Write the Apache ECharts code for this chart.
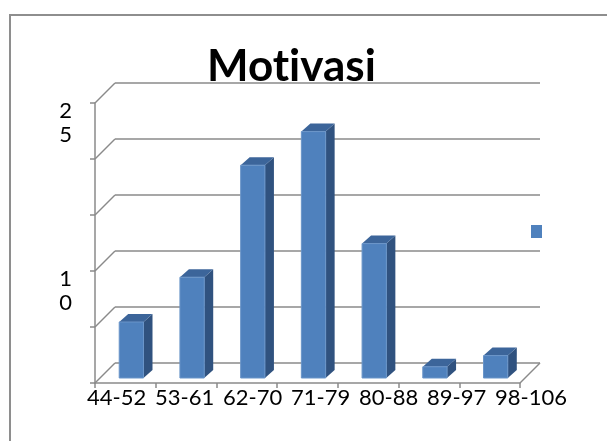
<!DOCTYPE html>
<html>
<head>
<meta charset="utf-8">
<script src="https://cdn.jsdelivr.net/npm/echarts@6/dist/echarts.min.js"></script>
<style>
  html, body { margin: 0; padding: 0; background: #fff; }
  #main { width: 607px; height: 441px; }
</style>
</head>
<body>
<div id="main"></div>
<script>
// data
const categories = ['44-52', '53-61', '62-70', '71-79', '80-88', '89-97', '98-106']
const values = [5, 9, 19, 22, 12, 1, 2]
const yTicks = [0, 5, 10, 15, 20, 25]

let chart = echarts.init(document.querySelector('#main'))

const grey = '#8a8a8a'
const depth = [20, -20]   // back wall offset

let option = {
  animation: false,
  textStyle: { fontFamily: 'Lato' },
  title: {
    text: 'Mot\u200Civasi',
    left: 202,
    top: 40,
    textStyle: { fontFamily: 'Lato', fontWeight: 'bold', fontSize: 44, color: '#000' }
  },
  legend: {
    left: 526,
    top: 220,
    icon: 'rect',
    itemWidth: 11,
    itemHeight: 13,
    data: ['Motivasi'],
    formatter: function () { return '' },
    selectedMode: false
  },
  grid: [
    // front plane
    { left: 95, top: 103, width: 425, height: 280 },
    // back wall
    { left: 95 + depth[0], top: 103 + depth[1], width: 425, height: 280 },
    // excel let the category labels run wider than the bands
    { left: 87, top: 103, width: 408, height: 280 }
  ],
  xAxis: [
    {
      type: 'category',
      gridIndex: 0,
      data: categories,
      axisLine: { lineStyle: { color: grey, width: 1.5 } },
      axisTick: { show: true, length: 5, lineStyle: { color: grey, width: 1.5 } },
      axisLabel: { show: false }
    },
    {
      type: 'category',
      gridIndex: 1,
      data: categories,
      show: false
    },
    {
      type: 'category',
      gridIndex: 2,
      data: categories,
      boundaryGap: false,
      axisLine: { show: false },
      axisTick: { show: false },
      axisLabel: { interval: 0, align: 'left', color: '#000', fontSize: 22, fontFamily: 'Lato', margin: 4 }
    }
  ],
  yAxis: [
    {
      type: 'value',
      gridIndex: 0,
      min: 0,
      max: 25,
      interval: 5,
      splitLine: { show: false },
      axisLine: { show: true, lineStyle: { color: grey, width: 1.5 } },
      axisTick: { show: true, length: 5, lineStyle: { color: grey, width: 1.5 } },
      axisLabel: {
        color: '#000',
        fontSize: 22,
        fontFamily: 'Lato',
        lineHeight: 24,
        margin: 23,
        verticalAlign: 'top',
        padding: [-4, 0, 0, 0],
        formatter: function (v) {
          // excel only kept these two, wrapped one digit per line
          if (v === 25 || v === 10) return String(v).split('').join('\n')
          return ''
        }
      }
    },
    {
      type: 'value',
      gridIndex: 1,
      min: 0,
      max: 25,
      interval: 5,
      axisLine: { show: false },
      axisTick: { show: false },
      axisLabel: { show: false },
      splitLine: { show: true, lineStyle: { color: grey, width: 1.5 } }
    },
    {
      type: 'value',
      gridIndex: 2,
      min: 0,
      max: 25,
      show: false
    }
  ],
  graphic: [
    {
      type: 'rect',
      shape: { x: 10, y: 15, width: 700, height: 500 },
      style: { fill: 'none', stroke: '#8e8e8e', lineWidth: 2 },
      silent: true
    }
  ],
  series: [
    // diagonal edges from the front axis to the back wall
    {
      type: 'custom',
      xAxisIndex: 0,
      yAxisIndex: 0,
      silent: true,
      data: yTicks.map(v => [0, v]),
      renderItem: function (params, api) {
        const p = api.coord([0, api.value(1)])
        const cs = params.coordSys
        const children = [{
          type: 'line',
          shape: { x1: cs.x, y1: p[1], x2: cs.x + depth[0], y2: p[1] + depth[1] },
          style: { stroke: grey, lineWidth: 1.5 }
        }]
        if (api.value(1) === 0) {
          children.push({
            type: 'line',
            shape: { x1: cs.x + cs.width, y1: p[1], x2: cs.x + cs.width + depth[0], y2: p[1] + depth[1] },
            style: { stroke: grey, lineWidth: 1.5 }
          })
        }
        return { type: 'group', children: children }
      }
    },
    // 3d-looking bars
    {
      type: 'custom',
      name: 'Motivasi',
      xAxisIndex: 0,
      yAxisIndex: 0,
      itemStyle: { color: '#4f81bd' },
      data: values.map((v, i) => [i, v]),
      encode: { x: 0, y: 1 },
      renderItem: function (params, api) {
        const base = api.coord([api.value(0), 0])
        const top = api.coord([api.value(0), api.value(1)])
        const band = api.size([1, 0])[0]
        const w = band * 0.4
        const fx = 6, fy = -5
        const dx = 9, dy = -8
        const x0 = base[0] - w / 2 + fx
        const x1 = x0 + w
        const yb = base[1] + fy
        const yt = top[1] + fy
        return {
          type: 'group',
          children: [
            {
              type: 'polygon',
              shape: { points: [[x1, yt], [x1 + dx, yt + dy], [x1 + dx, yb + dy], [x1, yb]] },
              style: { fill: '#30527f' }
            },
            {
              type: 'polygon',
              shape: { points: [[x0, yt], [x1, yt], [x1 + dx, yt + dy], [x0 + dx, yt + dy]] },
              style: { fill: '#3c659a' }
            },
            {
              type: 'rect',
              shape: { x: x0, y: yt, width: w, height: yb - yt },
              style: { fill: '#4f81bd', stroke: '#6a95c9', lineWidth: 1 }
            }
          ]
        }
      }
    }
  ]
}

chart.setOption(option)
</script>
</body>
</html>
